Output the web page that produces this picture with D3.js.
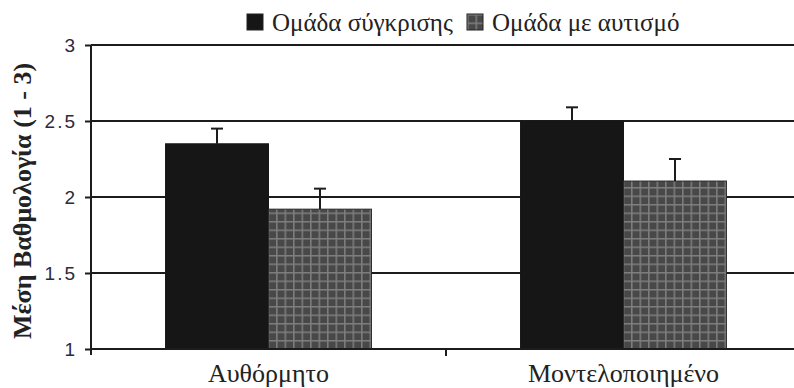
<!DOCTYPE html>
<html>
<head>
<meta charset="utf-8">
<script src="https://cdn.jsdelivr.net/npm/d3@7"></script>
<style>
  html, body { margin: 0; padding: 0; background: #fff; }
  svg { display: block; }
</style>
</head>
<body>
<script>
// Mean ratings (1–3) per condition and group, with upper error bars
const categories = ["Αυθόρμητο", "Μοντελοποιημένο"];
const seriesNames = ["Ομάδα σύγκρισης", "Ομάδα με αυτισμό"];
const comparisonMeans = [2.35, 2.50];
const autismMeans = [1.92, 2.105];
const comparisonErr = [0.10, 0.09];
const autismErr = [0.135, 0.145];
const yTicks = [1, 1.5, 2, 2.5, 3];
const yTickLabels = ["1", "1.5", "2", "2.5", "3"];
const yTitle = "Μέση Βαθμολογία (1 - 3)";

const W = 794, H = 388;
const svg = d3.select("body").append("svg").attr("width", W).attr("height", H);

// Checked fill for the second group
const defs = svg.append("defs");
const pat = defs.append("pattern")
  .attr("id", "check").attr("patternUnits", "userSpaceOnUse")
  .attr("width", 8.5).attr("height", 8.5);
pat.append("rect").attr("width", 8.5).attr("height", 8.5).attr("fill", "#484848");
pat.append("rect").attr("x", 0).attr("y", 0).attr("width", 8.5).attr("height", 1.5).attr("fill", "#7e7e7e");
pat.append("rect").attr("x", 0).attr("y", 0).attr("width", 1.5).attr("height", 8.5).attr("fill", "#7e7e7e");

const plotLeft = 91, plotRight = 801, plotTop = 45, plotBottom = 349;

const x = d3.scaleBand().domain(categories).range([plotLeft, plotRight]).paddingInner(0.42).paddingOuter(0.21);
const xs = d3.scaleBand().domain(seriesNames).range([0, x.bandwidth()]);
const y = d3.scaleLinear().domain([1, 3]).range([plotBottom, plotTop]);

const ink = "#1c1c1c";
const serif = "Liberation Serif, Times New Roman, serif";

// horizontal gridlines
svg.append("g").selectAll("line").data(yTicks.slice(1)).join("line")
  .attr("x1", plotLeft).attr("x2", W)
  .attr("y1", d => y(d)).attr("y2", d => y(d))
  .attr("stroke", ink).attr("stroke-width", 2);

// bars
const rows = categories.map((c, i) => ({
  cat: c,
  vals: [
    { s: seriesNames[0], v: comparisonMeans[i], e: comparisonErr[i] },
    { s: seriesNames[1], v: autismMeans[i], e: autismErr[i] }
  ]
}));

const grp = svg.append("g").selectAll("g").data(rows).join("g")
  .attr("transform", d => `translate(${x(d.cat)},0)`);

grp.selectAll("rect").data(d => d.vals).join("rect")
  .attr("x", d => xs(d.s))
  .attr("y", d => y(d.v))
  .attr("width", xs.bandwidth())
  .attr("height", d => y(1) - y(d.v))
  .attr("fill", (d, i) => i === 0 ? "#161616" : "url(#check)")
  .attr("stroke", (d, i) => i === 0 ? "#161616" : "#2a2a2a")
  .attr("stroke-width", 1);

// error bars (upper half)
const eb = grp.selectAll("g.err").data(d => d.vals).join("g").attr("class", "err");
eb.append("line")
  .attr("x1", d => xs(d.s) + xs.bandwidth() / 2)
  .attr("x2", d => xs(d.s) + xs.bandwidth() / 2)
  .attr("y1", d => y(d.v)).attr("y2", d => y(d.v + d.e))
  .attr("stroke", ink).attr("stroke-width", 2);
eb.append("line")
  .attr("x1", d => xs(d.s) + xs.bandwidth() / 2 - 6)
  .attr("x2", d => xs(d.s) + xs.bandwidth() / 2 + 6)
  .attr("y1", d => y(d.v + d.e)).attr("y2", d => y(d.v + d.e))
  .attr("stroke", ink).attr("stroke-width", 2);

// y axis
const yAxis = svg.append("g").attr("transform", `translate(${plotLeft},0)`)
  .call(d3.axisLeft(y).tickValues(yTicks).tickFormat((d, i) => yTickLabels[i]).tickSize(6).tickPadding(8));
yAxis.select(".domain").attr("stroke", ink).attr("stroke-width", 2).attr("d", `M0,${plotTop}V${plotBottom + 6}`);
yAxis.selectAll(".tick line").attr("stroke", ink).attr("stroke-width", 2);
yAxis.selectAll(".tick text")
  .attr("font-family", "Liberation Sans, Arial, sans-serif")
  .attr("font-size", 19).attr("letter-spacing", 2).attr("fill", "#2a2a3a");

// x axis
const xAxis = svg.append("g").attr("transform", `translate(0,${plotBottom})`);
xAxis.append("line").attr("x1", plotLeft).attr("x2", W).attr("y1", 0).attr("y2", 0)
  .attr("stroke", ink).attr("stroke-width", 2);
// divider tick between the two categories
const divX = (x(categories[0]) + x.bandwidth() + x(categories[1])) / 2;
xAxis.append("line")
  .attr("x1", divX).attr("x2", divX)
  .attr("y1", 0).attr("y2", 7).attr("stroke", ink).attr("stroke-width", 2);
xAxis.selectAll("text").data(categories).join("text")
  .attr("x", d => x(d) + x.bandwidth() / 2)
  .attr("y", 33)
  .attr("text-anchor", "middle")
  .attr("font-family", serif)
  .attr("font-size", 26).attr("fill", "#222")
  .text(d => d);

// y title
svg.append("text")
  .attr("transform", `translate(31,${(plotTop + plotBottom) / 2 + 4}) rotate(-90)`)
  .attr("text-anchor", "middle")
  .attr("font-family", serif)
  .attr("font-weight", "bold").attr("font-size", 26).attr("fill", "#222")
  .text(yTitle);

// legend
const legend = svg.append("g");
const legendItems = [
  { name: seriesNames[0], fill: "#161616", x: 247 },
  { name: seriesNames[1], fill: "url(#check)", x: 467 }
];
const li = legend.selectAll("g").data(legendItems).join("g")
  .attr("transform", d => `translate(${d.x},14)`);
li.append("rect").attr("width", 16).attr("height", 16)
  .attr("fill", d => d.fill).attr("stroke", "#222").attr("stroke-width", 1);
li.append("text").attr("x", 25).attr("y", 17)
  .attr("font-family", serif)
  .attr("font-size", 25).attr("fill", "#222")
  .text(d => d.name);
</script>
</body>
</html>
